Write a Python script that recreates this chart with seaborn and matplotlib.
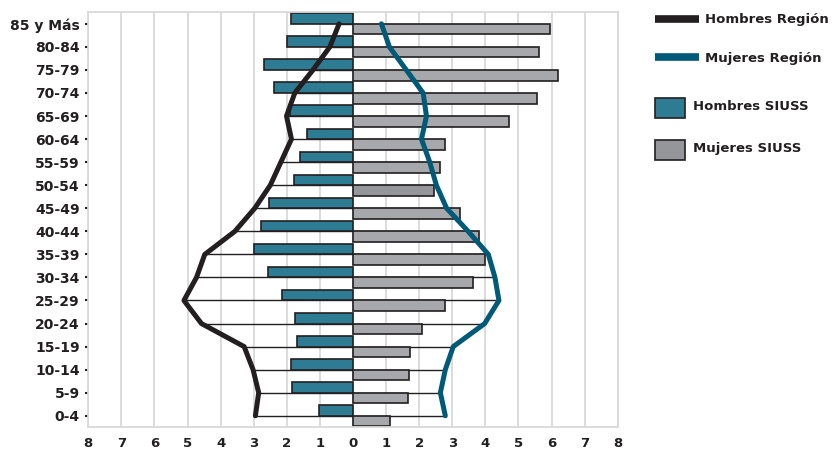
import matplotlib
matplotlib.use("Agg")
import matplotlib.pyplot as plt
from matplotlib.lines import Line2D
from matplotlib.patches import Rectangle
import numpy as np
import pandas as pd
import seaborn as sns

# Population pyramid: SIUSS bars vs regional profile lines (percent)
age_groups = ["85 y Más", "80-84", "75-79", "70-74", "65-69", "60-64",
              "55-59", "50-54", "45-49", "40-44", "35-39", "30-34",
              "25-29", "20-24", "15-19", "10-14", "5-9", "0-4"]
hombres_siuss = [1.88, 1.98, 2.69, 2.40, 1.91, 1.39, 1.61, 1.79, 2.55,
                 2.78, 2.98, 2.56, 2.14, 1.74, 1.70, 1.88, 1.83, 1.03]
mujeres_siuss = [5.95, 5.63, 6.20, 5.56, 4.70, 2.78, 2.62, 2.45, 3.23,
                 3.80, 4.00, 3.63, 2.77, 2.09, 1.73, 1.70, 1.66, 1.11]
hombres_region = [0.42, 0.70, 1.21, 1.76, 2.01, 1.86, 2.18, 2.50, 2.97,
                  3.57, 4.48, 4.73, 5.11, 4.58, 3.29, 3.02, 2.85, 2.95]
mujeres_region = [0.86, 1.10, 1.61, 2.12, 2.22, 2.07, 2.32, 2.52, 2.83,
                  3.48, 4.09, 4.29, 4.41, 3.98, 3.03, 2.79, 2.64, 2.79]
x_ticks = list(range(-8, 9))
x_tick_labels = [str(abs(v)) for v in x_ticks]
series_names = ["Hombres Región", "Mujeres Región", "Hombres SIUSS", "Mujeres SIUSS"]

dark = "#231f20"
teal_bar = "#2e7b94"
teal_line = "#015a78"
grey_bar = "#a7a8ab"
grey_dark = "#95969a"
grid_grey = "#d9d9d9"

sns.set_theme(style="white")
plt.rcParams["font.family"] = ["DejaVu Sans"]
plt.rcParams["font.weight"] = "bold"

fig = plt.figure(figsize=(8.35, 4.49), dpi=100)
ax = fig.add_axes([88.3 / 835, 1 - 427.3 / 449, 529.4 / 835, 415.0 / 449])

n = len(age_groups)
bars_df = pd.DataFrame({
    "grupo": age_groups * 2,
    "valor": [-v for v in hombres_siuss] + mujeres_siuss,
    "serie": [series_names[2]] * n + [series_names[3]] * n,
})

sns.barplot(data=bars_df, x="valor", y="grupo", hue="serie",
            order=age_groups, hue_order=series_names[2:],
            palette=[teal_bar, grey_bar], orient="h", width=0.92,
            dodge=True, saturation=1, errorbar=None, legend=False,
            edgecolor=dark, linewidth=1.2, ax=ax)

# one female bar is shaded darker in the original
ax.containers[1][age_groups.index("50-54")].set_facecolor(grey_dark)

pos = np.arange(n)
ax.hlines(pos, [-v for v in hombres_region], mujeres_region,
          color=dark, lw=1.0, zorder=0.9)

sns.lineplot(x=[-v for v in hombres_region], y=pos, orient="y", sort=False,
             estimator=None, color=dark, lw=3.6, ax=ax, zorder=3)
sns.lineplot(x=mujeres_region, y=pos, orient="y", sort=False,
             estimator=None, color=teal_line, lw=3.6, ax=ax, zorder=3)

ax.set_xlim(-8, 8)
ax.set_ylim(n - 0.5, -0.5)
ax.set_yticks(pos)
ax.set_yticklabels(age_groups)
ax.set_xticks(x_ticks)
ax.set_xticklabels(x_tick_labels)
ax.set_xlabel("")
ax.set_ylabel("")

ax.set_axisbelow(True)
ax.grid(axis="x", color=grid_grey, lw=1.3)
ax.grid(axis="y", visible=False)
for spine in ax.spines.values():
    spine.set_visible(True)
    spine.set_color(grid_grey)
    spine.set_linewidth(1.3)

ax.tick_params(axis="y", left=True, length=2.5, width=1.5, color=dark,
               pad=3.5, labelsize=10, labelcolor=dark)
ax.tick_params(axis="x", length=0, pad=7, labelsize=9.5, labelcolor=dark)
for lbl in ax.get_xticklabels() + ax.get_yticklabels():
    lbl.set_fontweight("bold")

# legend drawn by hand to match the spacing of the original
tf = fig.transFigure
for name, color, y in [(series_names[0], dark, 18.8), (series_names[1], teal_line, 57.2)]:
    fig.add_artist(Line2D([655 / 835, 699 / 835], [1 - y / 449] * 2, transform=tf,
                          color=color, lw=5.5, solid_capstyle="butt"))
    fig.text(705 / 835, 1 - (y + 1) / 449, name, va="center", ha="left",
             fontsize=9.5, fontweight="bold", color=dark)
for name, color, y in [(series_names[2], teal_bar, 108.3), (series_names[3], grey_dark, 149.7)]:
    fig.add_artist(Rectangle((655 / 835, 1 - (y + 10) / 449), 30 / 835, 20 / 449,
                             transform=tf, facecolor=color, edgecolor=dark, lw=1.2))
    fig.text(693 / 835, 1 - (y - 1.5) / 449, name, va="center", ha="left",
             fontsize=9.5, fontweight="bold", color=dark)

fig.savefig("out.png", dpi=100)
